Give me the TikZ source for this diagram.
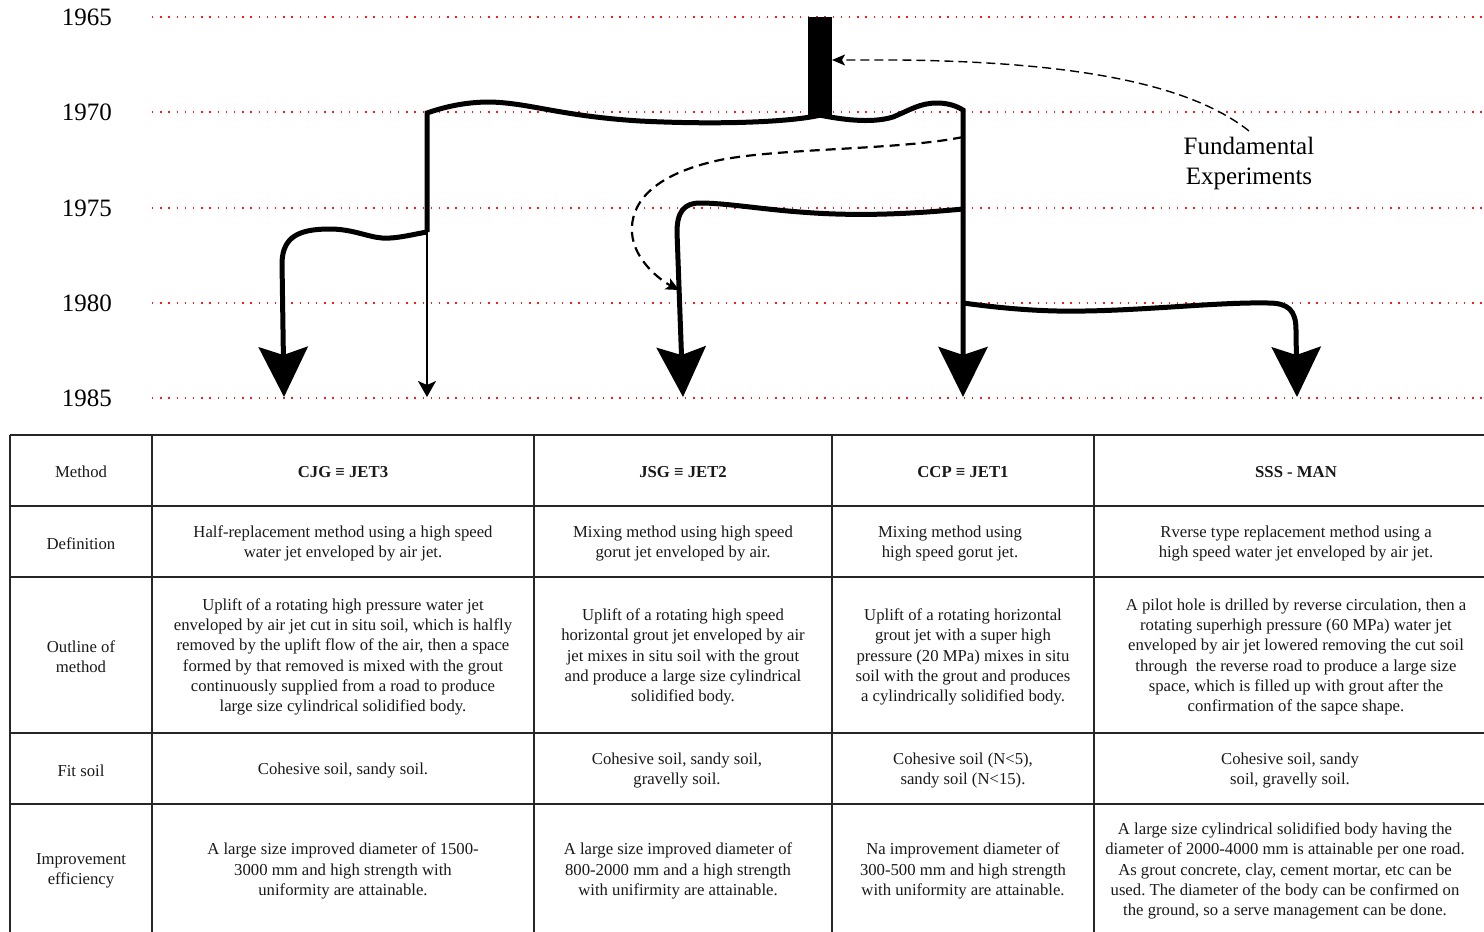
\documentclass[tikz,border=0pt]{standalone}
\usepackage{fontspec}
\setmainfont{Liberation Serif}
\usetikzlibrary{arrows.meta}
\newcommand\tblfont{\fontsize{16.7}{20.2}\selectfont}
\newcommand\yearfont{\fontsize{25}{30}\selectfont}
\frenchspacing

\begin{document}
\begin{tikzpicture}[x=1pt,y=-1pt,
  yearlabel/.style={anchor=east, inner sep=0pt, font=\yearfont},
  gridline/.style={red!90, line width=1.4pt, dash pattern=on 1.4pt off 6.8pt},
  tableline/.style={black!85, line width=1.5pt},
  cell/.style={align=center, inner sep=0pt, font=\tblfont, text=black!90},
  headcell/.style={cell, font=\tblfont\bfseries},
  trunk/.style={line width=5pt},
  bigtip/.style={-{Stealth[length=50pt,width=49pt,inset=8pt]}},
  smalltip/.style={-{Stealth[length=16pt,width=18pt,inset=4pt]}},
  branchloop/.style={line width=2.2pt, dash pattern=on 10pt off 6pt,
    -{Stealth[length=13pt,width=12pt,inset=3pt]}},
  experiment/.style={line width=1.4pt, dash pattern=on 9pt off 5pt,
    -{Stealth[length=13pt,width=11pt,inset=3pt]}}
]
\useasboundingbox (0,0) rectangle (1484,932);
\clip (0,0) rectangle (1484,932);

% ---------- time axis ----------
\foreach \yr/\yy in {1965/17,1970/112,1975/208,1980/303,1985/398}{
  \node[yearlabel] (y\yr) at (112,\yy) {\yr};
  \draw[gridline] (152,\yy) -- (1484,\yy);
}

% ---------- comparison table ----------
\foreach \ry in {435,506,577,733,804}{
  \draw[tableline] (10,\ry) -- (1484,\ry);
}
\foreach \cx in {10,152,534,832,1094}{
  \draw[tableline] (\cx,435) -- (\cx,940);
}

\node[cell] (r1c0) at (81,472) {Method};
\node[headcell] (r1c1) at (343,472) {CJG ≡ JET3};
\node[headcell] (r1c2) at (683,472) {JSG ≡ JET2};
\node[headcell] (r1c3) at (963,472) {CCP ≡ JET1};
\node[headcell] (r1c4) at (1296,472) {SSS - MAN};

\node[cell] (r2c0) at (81,543.5) {Definition};
\node[cell] (r2c1) at (343,543.5) {Half-replacement method using a high speed\\water jet enveloped by air jet.};
\node[cell] (r2c2) at (683,543.5) {Mixing method using high speed\\gorut jet enveloped by air.};
\node[cell] (r2c3) at (950,543.5) {Mixing method using\\high speed gorut jet.};
\node[cell] (r2c4) at (1296,543.5) {Rverse type replacement method using a\\high speed water jet enveloped by air jet.};

\node[cell] (r3c0) at (81,657) {Outline of\\method};
\node[cell] (r3c1) at (343,657) {Uplift of a rotating high pressure water jet\\enveloped by air jet cut in situ soil, which is halfly\\removed by the uplift flow of the air, then a space\\formed by that removed is mixed with the grout\\continuously supplied from a road to produce\\large size cylindrical solidified body.};
\node[cell] (r3c2) at (683,657) {Uplift of a rotating high speed\\horizontal grout jet enveloped by air\\jet mixes in situ soil with the grout\\and produce a large size cylindrical\\solidified body.};
\node[cell] (r3c3) at (963,657) {Uplift of a rotating horizontal\\grout jet with a super high\\pressure (20 MPa) mixes in situ\\soil with the grout and produces\\a cylindrically solidified body.};
\node[cell] (r3c4) at (1296,657) {A pilot hole is drilled by reverse circulation, then a\\rotating superhigh pressure (60 MPa) water jet\\enveloped by air jet lowered removing the cut soil\\through\ \ the reverse road to produce a large size\\space, which is filled up with grout after the\\confirmation of the sapce shape.};

\node[cell] (r4c0) at (81,770.5) {Fit soil};
\node[cell] (r4c1) at (343,770.5) {Cohesive soil, sandy soil.};
\node[cell] (r4c2) at (677,770.5) {Cohesive soil, sandy soil,\\gravelly soil.};
\node[cell] (r4c3) at (963,770.5) {Cohesive soil (N<5),\\sandy soil (N<15).};
\node[cell] (r4c4) at (1290,770.5) {Cohesive soil, sandy\\soil, gravelly soil.};

\node[cell] (r5c0) at (81,871) {Improvement\\efficiency};
\node[cell] (r5c1) at (343,871) {A large size improved diameter of 1500-\\3000 mm and high strength with\\uniformity are attainable.};
\node[cell] (r5c2) at (678,871) {A large size improved diameter of\\800-2000 mm and a high strength\\with unifirmity are attainable.};
\node[cell] (r5c3) at (963,871) {Na improvement diameter of\\300-500 mm and high strength\\with uniformity are attainable.};
\node[cell] (r5c4) at (1285,871) {A large size cylindrical solidified body having the\\diameter of 2000-4000 mm is attainable per one road.\\As grout concrete, clay, cement mortar, etc can be\\used. The diameter of the body can be confirmed on\\the ground, so a serve management can be done.};

% ---------- development tree ----------
\node[fill=black, minimum width=24pt, minimum height=98pt, inner sep=0pt] (bar) at (820,66) {};

\coordinate (cjgTop) at (427,113);
\coordinate (cjgFork) at (427,232);
\coordinate (jetRight) at (963,110);
\coordinate (jsgFork) at (963,209);
\coordinate (sssFork) at (963,303);
\coordinate (loopStart) at (963,137);
\coordinate (jsgJoin) at (679,290);
\coordinate (barHit) at (832,60);
\coordinate (expTail) at (1249,131);
\coordinate (cjgTip) at (284,397);
\coordinate (airTip) at (427,397);
\coordinate (jsgTip) at (683,397);
\coordinate (ccpTip) at (963,397);
\coordinate (sssTip) at (1297,397);

% left branch: CJG and the air line
\draw[trunk] (bar.south) .. controls (790,122) and (720,125) .. (640,121)
  .. controls (560,116) and (530,103) .. (490,102)
  .. controls (470,102) and (450,105) .. (cjgTop) -- (cjgFork);
\draw[trunk, bigtip] (cjgFork) .. controls (410,235) and (395,239) .. (382,238)
  .. controls (368,237) and (352,229) .. (330,229)
  .. controls (300,229) and (283,236) .. (282,262) -- (cjgTip);
\draw[line width=2pt, smalltip] (cjgFork) -- (airTip);

% right branch: CCP trunk
\draw[trunk, bigtip] (bar.south) .. controls (840,119) and (870,124) .. (893,117)
  .. controls (910,110) and (920,103) .. (937,103)
  .. controls (950,103) and (958,107) .. (jetRight) -- (ccpTip);

% JSG branch
\draw[trunk, bigtip] (jsgFork) .. controls (900,215) and (850,216) .. (800,212)
  .. controls (760,209) and (725,203) .. (700,203)
  .. controls (684,203) and (677,212) .. (677,232) -- (jsgTip);

% SSS branch
\draw[trunk, bigtip] (sssFork) .. controls (1000,308) and (1040,312) .. (1085,311)
  .. controls (1150,310) and (1220,302) .. (1268,303)
  .. controls (1288,303) and (1296,310) .. (1296,330) -- (sssTip);

% influence of CCP on JSG
\draw[branchloop] (loopStart) .. controls (900,150) and (780,148) .. (720,160)
  .. controls (650,175) and (630,205) .. (632,233)
  .. controls (634,260) and (660,280) .. (jsgJoin);

% fundamental experiments
\node[align=center, inner sep=0pt, font=\yearfont] (expts) at (1249,163) {Fundamental\\Experiments};
\draw[experiment] (expTail) .. controls (1185,80) and (1060,62) .. (900,60) -- (barHit);

\end{tikzpicture}
\end{document}
